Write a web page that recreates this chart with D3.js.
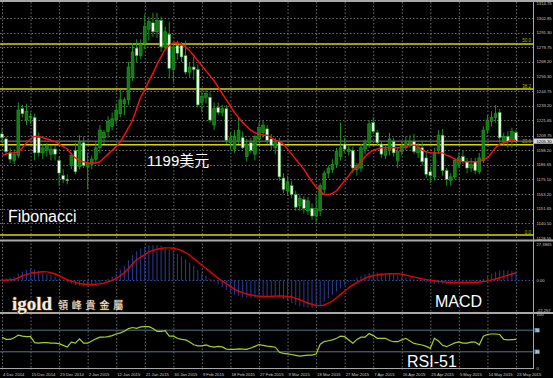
<!DOCTYPE html>
<html><head><meta charset="utf-8">
<script src="https://cdn.jsdelivr.net/npm/d3@7"></script>
<style>
html,body{margin:0;padding:0;background:#000;overflow:hidden;}
svg{display:block;}
</style></head>
<body>
<script>
// ---------- DATA ----------
const opens  = [1211,1207,1196,1190,1194,1231,1222,1224,1224,1208,1196,1198,1195,1199,1190,1178,1175,1186,1198,1185,1204,1185,1187,1191,1200,1208,1213,1217,1222,1227,1235,1238,1256,1279,1273,1283,1294,1299,1292,1301,1280,1290,1262,1281,1281,1273,1260,1264,1262,1236,1240,1240,1218,1232,1228,1231,1204,1199,1206,1208,1193,1204,1195,1207,1212,1215,1207,1200,1205,1176,1166,1170,1163,1154,1159,1150,1152,1146,1150,1167,1180,1183,1187,1193,1203,1197,1198,1183,1184,1199,1204,1220,1212,1203,1194,1198,1205,1190,1197,1200,1203,1205,1196,1200,1192,1181,1177,1198,1210,1182,1174,1177,1187,1193,1189,1184,1189,1181,1190,1214,1221,1224,1228,1205,1209,1205,1212];
const highs  = [1216,1209,1200,1199,1236,1234,1235,1228,1227,1212,1203,1204,1202,1202,1193,1183,1179,1196,1204,1210,1209,1196,1194,1205,1218,1214,1225,1228,1235,1246,1240,1268,1283,1286,1286,1306,1304,1307,1307,1304,1296,1300,1283,1285,1284,1285,1268,1272,1266,1246,1246,1244,1236,1236,1234,1234,1212,1214,1224,1213,1207,1208,1210,1220,1222,1218,1211,1208,1208,1180,1178,1174,1166,1163,1162,1161,1156,1162,1172,1182,1186,1191,1200,1220,1208,1202,1201,1188,1203,1207,1222,1224,1214,1205,1202,1212,1208,1200,1205,1209,1210,1211,1204,1205,1197,1185,1200,1214,1215,1184,1180,1192,1196,1198,1192,1192,1192,1196,1217,1226,1229,1234,1231,1212,1213,1216,1214];
const lows   = [1204,1195,1188,1187,1192,1224,1218,1219,1190,1193,1191,1193,1190,1190,1170,1172,1171,1183,1179,1183,1184,1167,1183,1188,1196,1203,1208,1214,1219,1224,1226,1234,1253,1268,1270,1278,1285,1288,1287,1276,1278,1255,1252,1270,1268,1258,1256,1254,1232,1228,1235,1220,1214,1226,1225,1203,1199,1196,1203,1199,1189,1196,1190,1204,1208,1203,1198,1195,1174,1164,1162,1160,1150,1150,1148,1147,1143,1141,1146,1163,1176,1180,1184,1190,1196,1194,1180,1178,1181,1195,1200,1211,1202,1192,1191,1194,1193,1184,1194,1198,1200,1195,1192,1186,1176,1172,1174,1195,1178,1170,1170,1175,1184,1187,1180,1181,1179,1179,1188,1211,1217,1220,1204,1202,1200,1200,1204];
const closes = [1208,1197,1191,1195,1230,1227,1229,1225,1196,1196,1200,1201,1199,1195,1180,1175,1174,1194,1181,1205,1186,1188,1191,1200,1214,1212,1221,1223,1230,1238,1238,1264,1276,1273,1282,1296,1300,1292,1301,1280,1292,1263,1280,1275,1272,1260,1264,1262,1234,1241,1243,1222,1231,1228,1231,1206,1208,1209,1214,1200,1203,1198,1209,1216,1218,1206,1202,1204,1177,1167,1173,1163,1153,1160,1152,1158,1146,1152,1170,1180,1184,1187,1197,1200,1199,1199,1184,1186,1200,1204,1219,1213,1204,1195,1199,1207,1196,1197,1201,1204,1205,1197,1200,1189,1179,1178,1196,1210,1182,1175,1177,1190,1192,1189,1184,1187,1182,1192,1214,1222,1224,1227,1208,1209,1205,1213,1205.3];
const maValues = [1194,1195,1196,1196,1197,1200,1204,1207,1209,1209,1208,1207,1206,1205,1203,1201,1199,1195,1192,1190,1189,1188,1188,1188,1189,1192,1195,1198,1201,1205,1210,1216,1222,1231,1240,1246,1253,1259,1266,1272,1278,1281,1283,1283,1282,1280,1277,1273,1269,1265,1261,1257,1253,1248,1243,1238,1233,1228,1224,1220,1217,1214,1212,1211,1210,1210,1208,1206,1205,1203,1199,1195,1191,1187,1183,1178,1173,1169,1166,1163,1163,1164,1166,1170,1174,1178,1182,1185,1189,1193,1196,1198,1199,1200,1200,1200,1200,1200,1200,1201,1202,1202,1201,1198,1197,1196,1196,1196,1196,1194,1193,1191,1190,1189,1189,1189,1189,1189,1191,1192,1196,1200,1203,1204,1205,1206,1206];
const macdMain = [1,1.5,2,2.5,5,6.5,8,8.5,8,7,6,5,4,2.5,1,-0.5,-1.5,-2.5,-3.5,-4,-4.5,-4,-3.5,-3,-1.5,0,1.5,3,5,8,11,15,19,22,24,25.5,26.5,26.5,26.5,26,25,23,21.5,20,18,16,13.5,11,8,5.5,3.5,1.5,-1,-3,-5,-7,-9,-10.5,-11.5,-12.5,-13,-13,-12.8,-12.5,-12,-11.8,-11.5,-11.5,-12.5,-14,-15.5,-17,-18.5,-19.5,-20,-20.5,-20.5,-20,-18.5,-16,-13.5,-11,-8.5,-6,-3.5,-1.5,0.5,2,3.5,4.5,5.5,6,6,5.5,5.2,5,4.5,3.8,3,2.2,1.5,0.8,0,-0.8,-1.5,-2,-2.3,-2.5,-2.6,-2.7,-2.8,-2.7,-2.5,-2.2,-2,-1.6,-1.2,-0.5,1,3,5,6.5,7.5,7.8,7.5,7,6.5];
const macdSignal = [0,0.2,0.4,0.6,2,3.5,4.5,5.3,5.8,6.2,6.5,6.4,5.8,4.8,3.5,2,0.5,-0.6,-1.5,-2.3,-2.8,-3,-3.1,-3,-2.6,-2,-1,0,1.5,3.5,6,9,12.5,15.5,17.5,19.5,21.5,22.5,23.5,24,24.5,24.5,24.2,23.5,22.5,21,19,16.5,14,11.5,9,6.5,4,1.5,-0.5,-2.5,-4.5,-6.5,-8,-9.2,-10.2,-11,-11.5,-11.8,-12,-12,-12,-11.8,-11.7,-11.8,-12,-12.5,-13.5,-14.5,-15.8,-17,-18,-18.8,-19,-18.5,-17,-15.5,-13,-10.5,-8,-5.5,-3.5,-1.5,0,1.5,2.8,3.6,4.2,4.6,4.8,5,5,5,4.6,4,3.2,2.5,1.8,1.2,0.6,0.2,-0.3,-0.7,-1,-1.3,-1.5,-1.6,-1.6,-1.6,-1.6,-1.5,-1.4,-1.2,-0.8,-0.5,0.3,1.2,2,3,3.8,4.8,5.6];
const rsiValues = [57,53,53,56,61,59,58,58,47,46,47,47,46,46,45,42,39,48,46,54,46,46,50,54,57,57,58,60,63,65,68,73,75,73.5,76,76.5,76.5,73,68,68,69,59,59,55,53,52,48,43,41,41,42.6,40,38.5,40,39,35,34.6,34.6,35.5,35,34.6,37,40,43.5,42,40.5,39.5,38.5,29,27,26,25,23.5,22,23,24,24,26,44,49,50.5,52,55,59,58,52,46,53,57,57,64,60,55,55,55,51,48.7,48.7,52,55,50,45.5,44,42.6,40,36.4,55,50,42,39.5,43,46.5,48.5,46,46,48,48,43,59,62,63,63,62,53,52,52.5,53];
const dateLabels = ["4 Dec 2014","15 Dec 2014","23 Dec 2014","2 Jan 2015","12 Jan 2015","21 Jan 2015","30 Jan 2015","9 Feb 2015","18 Feb 2015","27 Feb 2015","9 Mar 2015","18 Mar 2015","27 Mar 2015","7 Apr 2015","16 Apr 2015","25 Apr 2015","5 May 2015","14 May 2015","23 May 2015"];
const priceTicks = [1314.75,1302.85,1291.30,1279.75,1268.20,1256.30,1244.75,1233.20,1221.65,1209.75,1198.20,1186.65,1175.10,1163.20,1151.65,1140.10,1128.55];
const fibLabels = ["50.0","38.2","23.6","0.0"];
const fibPrices = [1282.3,1246.6,1202.4,1130.9];
const currentPrice = 1205.3;
const macdTicks = [27.3865,0,-22.257];
const macdTickLabels = ["27.3865","0.00","-22.257"];
const rsiTicks = [100,0];
const rsiLevels = [70,30];

// ---------- LAYOUT ----------
const W = 553, H = 378;
const plotRight = 533.5;
const barsPerLabel = 7;
const svg = d3.select("body").append("svg").attr("width", W).attr("height", H)
  .style("background", "#000");

const x = d3.scaleLinear().domain([0, closes.length - 1]).range([2, 516]);
const yMain = d3.scaleLinear().domain([1128.55, 1314.75]).range([238, 3]);
const yMacd = d3.scaleLinear().domain([-22.257, 27.3865]).range([310, 244]);
const yRsi = d3.scaleLinear().domain([0, 100]).range([368, 314]);

const gridColor = "#707070";
const labelColor = "#c8c8c8";
const axisFont = "Liberation Sans, Arial, sans-serif";

const defs = svg.append("defs");
defs.append("clipPath").attr("id", "cMain").append("rect").attr("x", 0).attr("y", 2).attr("width", plotRight).attr("height", 237);
defs.append("clipPath").attr("id", "cMacd").append("rect").attr("x", 0).attr("y", 241).attr("width", plotRight).attr("height", 71);
defs.append("clipPath").attr("id", "cRsi").append("rect").attr("x", 0).attr("y", 314).attr("width", plotRight).attr("height", 54);

// vertical grid (every 7 bars)
const gridIdx = dateLabels.map((d, k) => k * barsPerLabel);
svg.append("g").selectAll("line").data(gridIdx).join("line")
  .attr("x1", d => x(d) + 0.5).attr("x2", d => x(d) + 0.5)
  .attr("y1", 2).attr("y2", 370)
  .attr("stroke", gridColor).attr("stroke-width", 1).attr("stroke-dasharray", "1.5,2");

// horizontal grid (main)
svg.append("g").selectAll("line").data(priceTicks.slice(1, -1)).join("line")
  .attr("x1", 0).attr("x2", plotRight)
  .attr("y1", d => Math.round(yMain(d)) + 0.5).attr("y2", d => Math.round(yMain(d)) + 0.5)
  .attr("stroke", gridColor).attr("stroke-width", 1).attr("stroke-dasharray", "1.5,2");

// panel borders
const border = svg.append("g").attr("stroke", "#a8a8a8");
border.append("line").attr("x1", 0).attr("x2", W).attr("y1", 1).attr("y2", 1).attr("stroke-width", 2);
border.append("line").attr("x1", 0).attr("x2", W).attr("y1", 240.5).attr("y2", 240.5).attr("stroke-width", 2);
border.append("line").attr("x1", 0).attr("x2", W).attr("y1", 313).attr("y2", 313).attr("stroke-width", 2);
border.append("line").attr("x1", 0).attr("x2", plotRight).attr("y1", 368.5).attr("y2", 368.5).attr("stroke-width", 1);
border.append("line").attr("x1", plotRight).attr("x2", plotRight).attr("y1", 0).attr("y2", 369).attr("stroke-width", 1);

// ---------- MAIN PANEL ----------
const gMain = svg.append("g").attr("clip-path", "url(#cMain)");

gMain.append("g").selectAll("line").data(fibPrices).join("line")
  .attr("x1", 0).attr("x2", plotRight)
  .attr("y1", d => yMain(d)).attr("y2", d => yMain(d))
  .attr("stroke", "#d8d800").attr("stroke-width", 1.6);
gMain.append("g").selectAll("text").data(fibPrices).join("text")
  .attr("x", 531).attr("y", d => yMain(d) - 1.5)
  .attr("text-anchor", "end").attr("font-family", axisFont).attr("font-size", 4.5)
  .attr("fill", "#b4b400").text((d, i) => fibLabels[i]);

gMain.append("line").attr("x1", 0).attr("x2", plotRight)
  .attr("y1", yMain(currentPrice)).attr("y2", yMain(currentPrice))
  .attr("stroke", "#8c8c8c").attr("stroke-width", 1);

const candles = gMain.append("g").selectAll("g").data(closes).join("g");
candles.append("line")
  .attr("x1", (d, i) => x(i)).attr("x2", (d, i) => x(i))
  .attr("y1", (d, i) => yMain(highs[i])).attr("y2", (d, i) => yMain(lows[i]))
  .attr("stroke", "#1c931c").attr("stroke-width", 1);
candles.append("rect")
  .attr("x", (d, i) => x(i) - 1.4).attr("width", 2.8)
  .attr("y", (d, i) => yMain(Math.max(opens[i], closes[i])))
  .attr("height", (d, i) => Math.max(0.8, Math.abs(yMain(opens[i]) - yMain(closes[i]))))
  .attr("fill", (d, i) => closes[i] >= opens[i] ? "#137a13" : "#ffffff")
  .attr("stroke", "#22a022").attr("stroke-width", 0.6);

gMain.append("path").datum(maValues)
  .attr("d", d3.line().x((d, i) => x(i)).y(d => yMain(d)).curve(d3.curveMonotoneX))
  .attr("fill", "none").attr("stroke", "#ff1010").attr("stroke-width", 1.4);

// ---------- MACD PANEL ----------
const gMacd = svg.append("g").attr("clip-path", "url(#cMacd)");
gMacd.append("line").attr("x1", 0).attr("x2", plotRight)
  .attr("y1", yMacd(0)).attr("y2", yMacd(0))
  .attr("stroke", "#3a5aa8").attr("stroke-width", 1).attr("stroke-dasharray", "1.5,2");
gMacd.append("g").selectAll("line").data(macdMain).join("line")
  .attr("x1", (d, i) => x(i)).attr("x2", (d, i) => x(i))
  .attr("y1", yMacd(0)).attr("y2", d => yMacd(d))
  .attr("stroke", "#253a8a").attr("stroke-width", 1.1);
gMacd.append("path").datum(macdSignal)
  .attr("d", d3.line().x((d, i) => x(i)).y(d => yMacd(d)).curve(d3.curveMonotoneX))
  .attr("fill", "none").attr("stroke", "#e80000").attr("stroke-width", 1.4);

// ---------- RSI PANEL ----------
const gRsi = svg.append("g").attr("clip-path", "url(#cRsi)");
gRsi.append("g").selectAll("line").data(rsiLevels).join("line")
  .attr("x1", 0).attr("x2", plotRight)
  .attr("y1", d => yRsi(d)).attr("y2", d => yRsi(d))
  .attr("stroke", "#557888").attr("stroke-width", 1);
gRsi.append("path").datum(rsiValues)
  .attr("d", d3.line().x((d, i) => x(i)).y(d => yRsi(d)))
  .attr("fill", "none").attr("stroke", "#a4d030").attr("stroke-width", 1.2);

// ---------- RIGHT AXIS LABELS ----------
const ax = svg.append("g").attr("font-family", axisFont).attr("font-size", 4.2).attr("fill", labelColor);
ax.selectAll(".pt").data(priceTicks).join("text")
  .attr("x", 536.5).attr("y", d => yMain(d) + 1.5).text(d => d.toFixed(2));
ax.selectAll(".mt").data(macdTicks).join("text")
  .attr("x", 536.5).attr("y", d => yMacd(d) + 1.5).text((d, i) => macdTickLabels[i]);
ax.selectAll(".rt").data(rsiTicks).join("text")
  .attr("x", 536.5).attr("y", d => yRsi(d) + 1.5).text(d => d);
svg.append("g").selectAll("rect").data(rsiLevels).join("rect")
  .attr("x", 534.5).attr("y", d => yRsi(d) - 2.2).attr("width", 5).attr("height", 4.4)
  .attr("fill", "#5b90b4");
svg.append("g").selectAll("text").data(rsiLevels).join("text")
  .attr("x", 535.2).attr("y", d => yRsi(d) + 1.4)
  .attr("font-family", axisFont).attr("font-size", 3.6).attr("fill", "#ffffff").text(d => d);
svg.append("rect").attr("x", 534).attr("y", yMain(currentPrice) - 2.6).attr("width", 19).attr("height", 5.2)
  .attr("fill", "#d8d8d8");
svg.append("text").attr("x", 536.5).attr("y", yMain(currentPrice) + 1.5)
  .attr("font-family", axisFont).attr("font-size", 4.2).attr("fill", "#000")
  .text(currentPrice.toFixed(2));

// ---------- DATE LABELS ----------
svg.append("g").selectAll("text").data(dateLabels).join("text")
  .attr("x", (d, k) => x(k * barsPerLabel) + 1).attr("y", 375.5)
  .attr("font-family", axisFont).attr("font-size", 4.2).attr("fill", labelColor)
  .text(d => d);

// ---------- ANNOTATIONS ----------
const ann = svg.append("g").attr("font-family", "Liberation Sans, Arial, 'Noto Sans CJK SC', sans-serif").attr("fill", "#ffffff");
ann.append("text").attr("x", 147).attr("y", 166).attr("font-size", 15).text("1199美元");
ann.append("text").attr("x", 8).attr("y", 222).attr("font-size", 16).text("Fibonacci");
ann.append("text").attr("x", 435).attr("y", 307).attr("font-size", 16).text("MACD");
ann.append("text").attr("x", 407).attr("y", 366.5).attr("font-size", 16).text("RSI-51");

const logo = svg.append("g");
logo.append("text").attr("x", 12).attr("y", 309.5)
  .attr("font-family", "Liberation Serif, 'DejaVu Serif', serif").attr("font-weight", "bold").attr("font-size", 19)
  .attr("fill", "#f4efe4").attr("stroke", "#5a3a1c").attr("stroke-width", 1.2).attr("paint-order", "stroke")
  .text("igold");
logo.append("text").attr("x", 58).attr("y", 309)
  .attr("font-family", "'Noto Sans CJK TC', sans-serif").attr("font-size", 10).attr("letter-spacing", 3.8)
  .attr("fill", "#eeeae0").attr("stroke", "#5a3a1c").attr("stroke-width", 0.9).attr("paint-order", "stroke")
  .text("領峰貴金屬");
</script>
</body></html>
